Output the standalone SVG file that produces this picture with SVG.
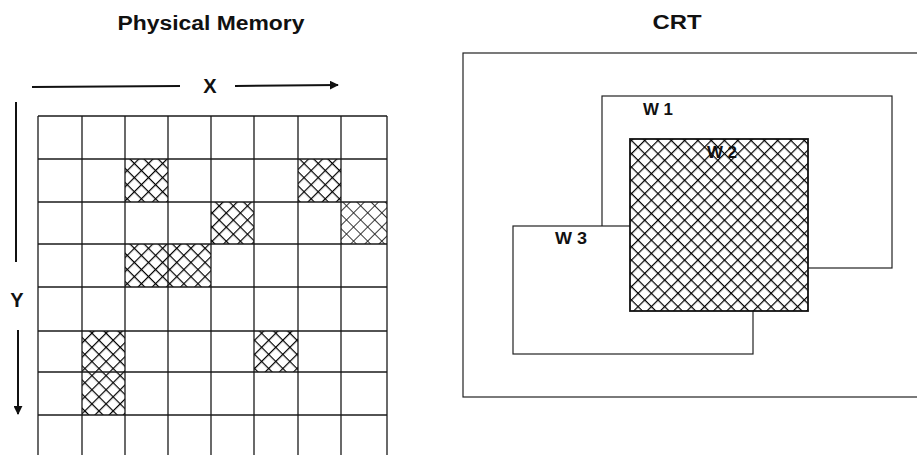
<svg xmlns="http://www.w3.org/2000/svg" width="917" height="455" viewBox="0 0 917 455">
  <style>
    .title { font-family: "Liberation Sans", Arial, sans-serif; font-weight: bold; font-size: 20px; fill: #111; }
    .axis { font-family: "Liberation Sans", Arial, sans-serif; font-weight: bold; font-size: 20px; fill: #111; }
    .wlabel { font-family: "Liberation Sans", Arial, sans-serif; font-weight: bold; font-size: 16px; fill: #111; }
    .grid { stroke: #1a1a1a; stroke-width: 1.3; fill: none; }
    .win { stroke: #222; stroke-width: 1.2; fill: #fff; }
    .arrow { stroke: #111; stroke-width: 2; fill: none; }
  </style>
  <defs>
    <pattern id="hatch" patternUnits="userSpaceOnUse" width="10" height="10" patternTransform="rotate(45)">
      <line x1="0" y1="0" x2="10" y2="0" stroke="#000" stroke-width="2.4"/>
      <line x1="0" y1="0" x2="0" y2="10" stroke="#000" stroke-width="2.4"/>
    </pattern>
    <pattern id="hatchLight" patternUnits="userSpaceOnUse" width="10" height="10" patternTransform="rotate(45)">
      <line x1="0" y1="0" x2="10" y2="0" stroke="#222" stroke-width="1.8"/>
      <line x1="0" y1="0" x2="0" y2="10" stroke="#222" stroke-width="1.8"/>
    </pattern>
    <pattern id="hatchCRT" patternUnits="userSpaceOnUse" width="9.4" height="9.4" patternTransform="rotate(45)">
      <line x1="0" y1="0" x2="9.4" y2="0" stroke="#000" stroke-width="2.4"/>
      <line x1="0" y1="0" x2="0" y2="9.4" stroke="#000" stroke-width="2.4"/>
    </pattern>
    <marker id="head" viewBox="0 0 10 10" refX="9" refY="5" markerWidth="4.5" markerHeight="4.5" orient="auto" markerUnits="strokeWidth">
      <path d="M0,0 L10,5 L0,10 z" fill="#111"/>
    </marker>
  </defs>

  <rect width="917" height="455" fill="#fff"/>

  <!-- Titles -->
  <g id="title-physical">
    <text class="title" x="211" y="30" text-anchor="middle" textLength="187" lengthAdjust="spacingAndGlyphs">Physical Memory</text>
  </g>
  <g id="title-crt">
    <text class="title" x="677" y="29" text-anchor="middle" textLength="49" lengthAdjust="spacingAndGlyphs">CRT</text>
  </g>

  <!-- Hatched memory cells -->
  <g id="hatched-cells">
    <rect x="125" y="159" width="43" height="43" fill="url(#hatch)"/>
    <rect x="298" y="159" width="43" height="43" fill="url(#hatch)"/>
    <rect x="211" y="202" width="43" height="42" fill="url(#hatch)"/>
    <rect x="341" y="202" width="46" height="42" fill="url(#hatchLight)"/>
    <rect x="125" y="244" width="43" height="43" fill="url(#hatch)"/>
    <rect x="168" y="244" width="43" height="43" fill="url(#hatch)"/>
    <rect x="82" y="331" width="43" height="41" fill="url(#hatch)"/>
    <rect x="254" y="331" width="44" height="41" fill="url(#hatch)"/>
    <rect x="82" y="372" width="43" height="43" fill="url(#hatch)"/>
  </g>

  <!-- Memory grid -->
  <g id="memory-grid" class="grid">
    <line x1="38" y1="116" x2="38" y2="460"/>
    <line x1="82" y1="116" x2="82" y2="460"/>
    <line x1="125" y1="116" x2="125" y2="460"/>
    <line x1="168" y1="116" x2="168" y2="460"/>
    <line x1="211" y1="116" x2="211" y2="460"/>
    <line x1="254" y1="116" x2="254" y2="460"/>
    <line x1="298" y1="116" x2="298" y2="460"/>
    <line x1="341" y1="116" x2="341" y2="460"/>
    <line x1="387" y1="116" x2="387" y2="460"/>
    <line x1="38" y1="116" x2="387" y2="116"/>
    <line x1="38" y1="159" x2="387" y2="159"/>
    <line x1="38" y1="202" x2="387" y2="202"/>
    <line x1="38" y1="244" x2="387" y2="244"/>
    <line x1="38" y1="287" x2="387" y2="287"/>
    <line x1="38" y1="331" x2="387" y2="331"/>
    <line x1="38" y1="372" x2="387" y2="372"/>
    <line x1="38" y1="415" x2="387" y2="415"/>
  </g>

  <!-- Axis arrows -->
  <g id="axis-arrows">
    <line class="arrow" x1="32" y1="87" x2="180" y2="86"/>
    <line class="arrow" x1="235" y1="86" x2="338" y2="85" marker-end="url(#head)"/>
    <line class="arrow" x1="16" y1="102" x2="16" y2="262"/>
    <line class="arrow" x1="18" y1="330" x2="18" y2="414" marker-end="url(#head)"/>
  </g>
  <g id="label-x">
    <text class="axis" x="210" y="93" text-anchor="middle">X</text>
  </g>
  <g id="label-y">
    <text class="axis" x="17" y="307" text-anchor="middle">Y</text>
  </g>

  <!-- CRT -->
  <g id="crt">
    <rect x="463" y="53" width="470" height="344" class="win"/>
  </g>
  <g id="w1">
    <rect x="602" y="96" width="290" height="172" class="win"/>
    <text class="wlabel" x="643" y="115" textLength="30" lengthAdjust="spacingAndGlyphs">W 1</text>
  </g>
  <g id="w3">
    <rect x="513" y="226" width="240" height="128" class="win"/>
    <text class="wlabel" x="555" y="244" textLength="32" lengthAdjust="spacingAndGlyphs">W 3</text>
  </g>
  <g id="w2">
    <rect x="630" y="139" width="178" height="172" fill="#fff"/>
    <rect x="630" y="139" width="178" height="172" fill="url(#hatchCRT)" stroke="#111" stroke-width="1.8"/>
    <text class="wlabel" x="707" y="158" textLength="30" lengthAdjust="spacingAndGlyphs">W 2</text>
  </g>
</svg>
